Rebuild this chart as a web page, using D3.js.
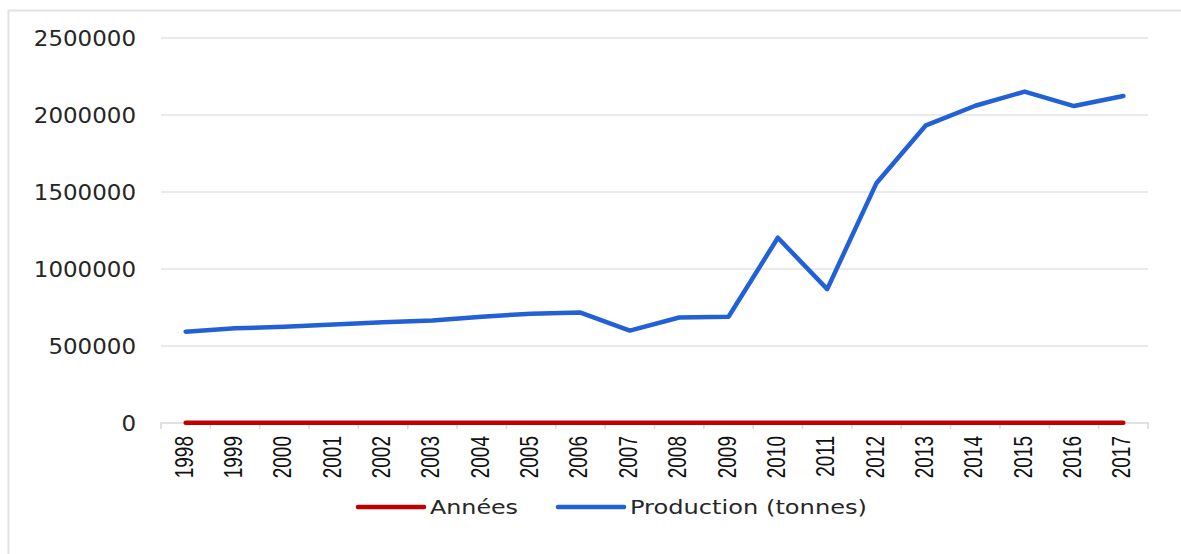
<!DOCTYPE html>
<html><head><meta charset="utf-8">
<script src="https://cdn.jsdelivr.net/npm/d3@7"></script>
<style>body{margin:0;background:#fff}svg{display:block}</style>
</head><body>
<svg id="c" width="1181" height="554"></svg>
<script>
const years = ["1998","1999","2000","2001","2002","2003","2004","2005","2006","2007","2008","2009","2010","2011","2012","2013","2014","2015","2016","2017"];
const anneesValues = [1998,1999,2000,2001,2002,2003,2004,2005,2006,2007,2008,2009,2010,2011,2012,2013,2014,2015,2016,2017];
const productionValues = [593000,615000,625000,640000,655000,665000,690000,710000,717000,600000,685000,690000,1203000,869000,1559000,1933000,2060000,2152000,2058000,2123000];
const yTicks = [0,500000,1000000,1500000,2000000,2500000];
const seriesNames = ["Années","Production (tonnes)"];
const seriesColors = ["#c00000","#2260d8"];

(function(){
const svg = d3.select("#c");
const pL = 161, pR = 1148, pT = 38, pB = 423;
svg.append("rect").attr("x",8.5).attr("y",10.5).attr("width",1200).attr("height",600)
  .attr("fill","none").attr("stroke","#e2e2e2").attr("stroke-width",2);

const x = d3.scaleBand().domain(years).range([pL,pR]);
const y = d3.scaleLinear().domain([0,2500000]).range([pB,pT]);

svg.append("g").selectAll("line").data(yTicks.slice(1)).join("line")
  .attr("x1",pL).attr("x2",pR).attr("y1",d=>y(d)).attr("y2",d=>y(d))
  .attr("stroke","#e3e3e3").attr("stroke-width",1.6);

const yAxis = d3.axisLeft(y).tickValues(yTicks).tickFormat(d=>String(d)).tickSize(0).tickPadding(0);
const yg = svg.append("g").attr("transform",`translate(136,0)`).call(yAxis);
yg.select(".domain").remove();
yg.selectAll("text").attr("font-family","DejaVu Sans").attr("font-size",21.5).attr("fill","#262626")
  .attr("dy","0.36em")
  .attr("textLength",d=>String(d).length*14.6).attr("lengthAdjust","spacingAndGlyphs");

const xAxis = d3.axisBottom(x).tickSize(0).tickPadding(0);
const xg = svg.append("g").attr("transform",`translate(0,${pB})`).call(xAxis);
xg.select(".domain").attr("stroke","#d9d9d9").attr("stroke-width",1.6)
  .attr("d",`M${pL},6V0H${pR}V6`);
svg.append("g").selectAll("line").data(years.slice(1)).join("line")
  .attr("x1",d=>x(d)).attr("x2",d=>x(d)).attr("y1",pB).attr("y2",pB+6)
  .attr("stroke","#d9d9d9").attr("stroke-width",1.6);
xg.selectAll(".tick text")
  .attr("font-family","Liberation Sans").attr("font-size",19).attr("fill","#111")
  .attr("text-anchor","end").attr("dy",0).attr("y",0)
  .attr("transform","translate(7,13) rotate(-90) scale(1,1.33)");

const line = d3.line().x((d,i)=>x(years[i])+x.bandwidth()/2).y(d=>y(d));
svg.append("path").datum(anneesValues).attr("d",line).attr("fill","none")
  .attr("stroke",seriesColors[0]).attr("stroke-width",4.5).attr("stroke-linecap","round").attr("stroke-linejoin","round");
svg.append("path").datum(productionValues).attr("d",line).attr("fill","none")
  .attr("stroke",seriesColors[1]).attr("stroke-width",4.5).attr("stroke-linecap","round").attr("stroke-linejoin","round");

const legX = [358, 558];
const legLen = [88, 237];
const lg = svg.append("g");
seriesNames.forEach((n,i)=>{
  lg.append("line").attr("x1",legX[i]).attr("x2",legX[i]+66).attr("y1",507).attr("y2",507)
    .attr("stroke",seriesColors[i]).attr("stroke-width",4.5).attr("stroke-linecap","round");
  lg.append("text").attr("x",legX[i]+72).attr("y",507).attr("dy","0.36em")
    .attr("font-family","DejaVu Sans").attr("font-size",20).attr("fill","#262626")
    .attr("textLength",legLen[i]).attr("lengthAdjust","spacingAndGlyphs").text(n);
});
})();
</script>
</body></html>
